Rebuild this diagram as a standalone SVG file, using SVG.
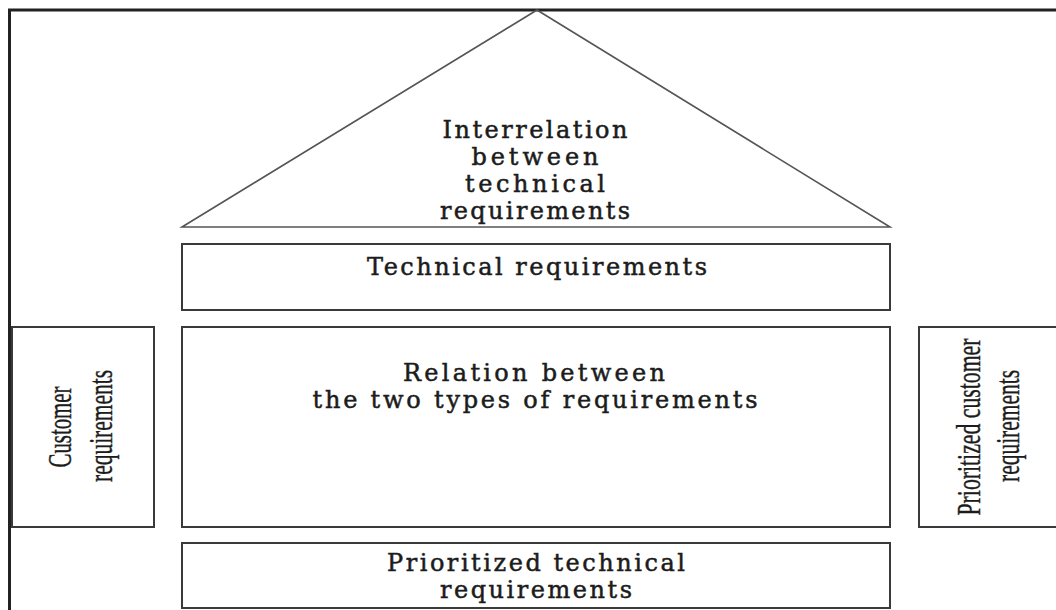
<svg xmlns="http://www.w3.org/2000/svg" width="1056" height="610" viewBox="0 0 1056 610">
  <style>
    .frame { fill: none; stroke: #222; stroke-width: 3; }
    .box { fill: #fff; stroke: #3a3a3a; stroke-width: 2; }
    .roof { fill: none; stroke: #555; stroke-width: 1.6; stroke-linejoin: miter; }
    .lbl { font-family: "DejaVu Serif", "Liberation Serif", serif; font-size: 24px; fill: #1c1c1c; stroke: #1c1c1c; stroke-width: 0.5; text-anchor: middle; }
    .vlbl { font-family: "Liberation Serif", "Times New Roman", serif; font-size: 21px; fill: #1c1c1c; stroke: #1c1c1c; stroke-width: 0.25; text-anchor: middle; }
  </style>

  <rect width="1056" height="610" fill="#fff"/>

  <!-- outer frame: only the top and left edges fall inside the page -->
  <path class="frame" d="M 9.5 610 V 10 H 1056"/>

  <!-- roof: correlation between technical requirements -->
  <g id="roof">
    <path class="roof" d="M 182 227 L 537 10 L 890 227 Z"/>
    <text class="lbl" x="535" y="138" textLength="185" lengthAdjust="spacing">Interrelation</text>
    <text class="lbl" x="535" y="165" textLength="127" lengthAdjust="spacing">between</text>
    <text class="lbl" x="535" y="192" textLength="140" lengthAdjust="spacing">technical</text>
    <text class="lbl" x="535" y="219" textLength="190" lengthAdjust="spacing">requirements</text>
  </g>

  <g id="technical">
    <rect class="box" x="182" y="244" width="708" height="66"/>
    <text class="lbl" x="537" y="275" textLength="340" lengthAdjust="spacing">Technical requirements</text>
  </g>

  <g id="relation">
    <rect class="box" x="182" y="327" width="708" height="200"/>
    <text class="lbl" x="534" y="381" textLength="262" lengthAdjust="spacing">Relation between</text>
    <text class="lbl" x="535" y="408" textLength="445" lengthAdjust="spacing">the two types of requirements</text>
  </g>

  <g id="customer">
    <rect class="box" x="12" y="327" width="142" height="200"/>
    <text class="vlbl" transform="translate(71,427) rotate(-90) scale(1,1.65)" textLength="81" lengthAdjust="spacingAndGlyphs">Customer</text>
    <text class="vlbl" transform="translate(112,426) rotate(-90) scale(1,1.65)" textLength="112" lengthAdjust="spacingAndGlyphs">requirements</text>
  </g>

  <g id="prioritized-customer">
    <rect class="box" x="919" y="327" width="150" height="200"/>
    <text class="vlbl" transform="translate(980,427) rotate(-90) scale(1,1.65)" textLength="177" lengthAdjust="spacingAndGlyphs">Prioritized customer</text>
    <text class="vlbl" transform="translate(1019,426) rotate(-90) scale(1,1.65)" textLength="112" lengthAdjust="spacingAndGlyphs">requirements</text>
  </g>

  <g id="prioritized-technical">
    <rect class="box" x="182" y="543" width="708" height="65"/>
    <text class="lbl" x="536" y="571" textLength="298" lengthAdjust="spacing">Prioritized technical</text>
    <text class="lbl" x="536" y="598" textLength="192" lengthAdjust="spacing">requirements</text>
  </g>

  <!-- no connectors in this figure -->
  <g id="connectors"/>
</svg>
